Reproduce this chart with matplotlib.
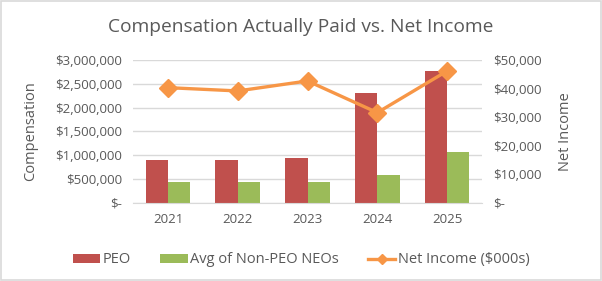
import numpy as np
import matplotlib
matplotlib.use("Agg")
import matplotlib.pyplot as plt
from matplotlib.patches import Rectangle
from matplotlib.ticker import FuncFormatter

years = ["2021", "2022", "2023", "2024", "2025"]
peo = [892000, 906000, 941000, 2316000, 2763000]
non_peo = [446000, 444000, 446000, 578000, 1074000]
net_income = [40330, 39180, 42670, 31600, 46160]

plt.rcParams['font.family'] = ['Open Sans', 'DejaVu Sans']
txt = '#595959'

def money(v, pos):
    if v == 0:
        return '$-'
    return '${:,.0f}'.format(v)

fig = plt.figure(figsize=(6.02, 2.81), dpi=100)
ax = fig.add_axes([0.221, 0.2776, 0.5797, 0.5089])
ax2 = ax.twinx()

x = np.arange(len(years))
w = 0.32
ax.bar(x - w / 2, peo, w, color='#C0504D', label='PEO', zorder=2)
ax.bar(x + w / 2, non_peo, w, color='#9BBB59', label='Avg of Non-PEO NEOs', zorder=2)
ax2.plot(x, net_income, color='#F79646', lw=2.4, marker='D', ms=9,
         label='Net Income ($000s)')

ax.set_xlim(-0.5, 4.5)
ax.set_ylim(0, 3000000)
ax.set_yticks(np.arange(0, 3000001, 500000))
ax2.set_ylim(0, 50000)
ax2.set_yticks(np.arange(0, 50001, 10000))
ax.yaxis.set_major_formatter(FuncFormatter(money))
ax2.yaxis.set_major_formatter(FuncFormatter(money))
ax.set_xticks(x)
ax.set_xticklabels(years)

ax.grid(axis='y', color='#D9D9D9', lw=1, zorder=0)
ax.set_axisbelow(True)
for a in (ax, ax2):
    for s in a.spines.values():
        s.set_visible(False)
    a.tick_params(length=0, colors=txt, labelsize=9.5)
ax.spines['bottom'].set_visible(True)
ax.spines['bottom'].set_color('#D9D9D9')
ax.tick_params(axis='x', pad=7)
ax.tick_params(axis='y', pad=8)
ax2.tick_params(axis='y', pad=8)

ax.set_ylabel('Compensation', color=txt, fontsize=10.5, labelpad=12)
ax2.set_ylabel('Net Income', color=txt, fontsize=10.5, labelpad=12)

fig.text(0.5, 0.905, 'Compensation Actually Paid vs. Net Income', ha='center',
         va='center', color=txt, fontsize=13.8)

h1, l1 = ax.get_legend_handles_labels()
h2, l2 = ax2.get_legend_handles_labels()
leg = fig.legend(h1 + h2, l1 + l2, loc='center', bbox_to_anchor=(0.5, 0.075),
                 ncol=3, frameon=False, fontsize=10.5, handlelength=1.9,
                 handleheight=0.6, handletextpad=0.15, columnspacing=2.0,
                 markerscale=0.6, labelcolor=txt)

fig.patches.append(Rectangle((0.002, 0.003), 0.996, 0.994, transform=fig.transFigure,
                             fill=False, edgecolor='#D9D9D9', lw=1.2))

fig.savefig('out.png', dpi=100)
